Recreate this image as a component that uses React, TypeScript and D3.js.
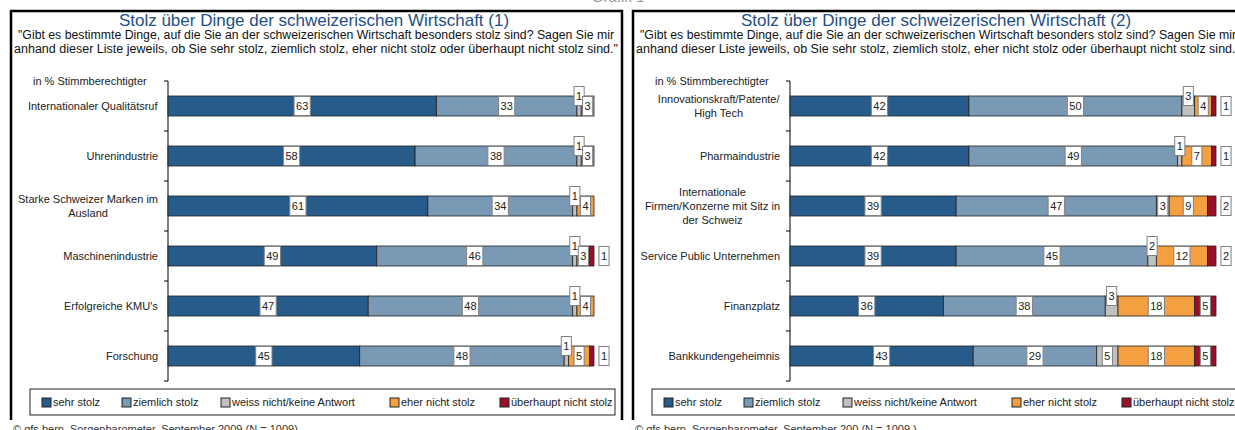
import * as d3 from "d3";
import React, { useEffect, useRef } from "react";

// panel 1
const categories1 = [
  "Internationaler Qualitätsruf",
  "Uhrenindustrie",
  "Starke Schweizer Marken im\nAusland",
  "Maschinenindustrie",
  "Erfolgreiche KMU's",
  "Forschung",
];
const sehrStolz1 = [63, 58, 61, 49, 47, 45];
const ziemlichStolz1 = [33, 38, 34, 46, 48, 48];
const weissNicht1 = [1, 1, 1, 1, 1, 1];
const eherNicht1 = [3, 3, 4, 3, 4, 5];
const ueberhauptNicht1 = [0, 0, 0, 1, 0, 1];

// panel 2
const categories2 = [
  "Innovationskraft/Patente/\nHigh Tech",
  "Pharmaindustrie",
  "Internationale\nFirmen/Konzerne mit Sitz in\nder Schweiz",
  "Service Public Unternehmen",
  "Finanzplatz",
  "Bankkundengeheimnis",
];
const sehrStolz2 = [42, 42, 39, 39, 36, 43];
const ziemlichStolz2 = [50, 49, 47, 45, 38, 29];
const weissNicht2 = [3, 1, 3, 2, 3, 5];
const eherNicht2 = [4, 7, 9, 12, 18, 18];
const ueberhauptNicht2 = [1, 1, 2, 2, 5, 5];

const seriesNames = [
  "sehr stolz",
  "ziemlich stolz",
  "weiss nicht/keine Antwort",
  "eher nicht stolz",
  "überhaupt nicht stolz",
];
const seriesColors = ["#275b8a", "#7a99b5", "#c0c0c0", "#f4a041", "#9c0f2a"];

const subtitle1 =
  '"Gibt es bestimmte Dinge, auf die Sie an der schweizerischen Wirtschaft besonders stolz sind? Sagen Sie mir';
const subtitle2 =
  'anhand dieser Liste jeweils, ob Sie sehr stolz, ziemlich stolz, eher nicht stolz oder überhaupt nicht stolz sind."';

const panels = [
  {
    title: "Stolz über Dinge der schweizerischen Wirtschaft (1)",
    footer: "© gfs.bern, Sorgenbarometer, September 2009 (N = 1009)",
    categories: categories1,
    series: [sehrStolz1, ziemlichStolz1, weissNicht1, eherNicht1, ueberhauptNicht1],
    raised: categories1,
  },
  {
    title: "Stolz über Dinge der schweizerischen Wirtschaft (2)",
    footer: "© gfs.bern, Sorgenbarometer, September 200 (N = 1009 )",
    categories: categories2,
    series: [sehrStolz2, ziemlichStolz2, weissNicht2, eherNicht2, ueberhauptNicht2],
    raised: [categories2[0], categories2[1], categories2[3], categories2[4]],
  },
];

const FONT = "'Liberation Sans', Arial, sans-serif";
const legendX = [42, 122, 221, 390, 500];

function App() {
  const ref = useRef<SVGSVGElement>(null);

  useEffect(() => {
    const svg = d3.select(ref.current);
    svg.selectAll("*").remove();

    svg
      .append("text")
      .attr("x", 618)
      .attr("y", 2)
      .attr("text-anchor", "middle")
      .attr("font-family", FONT)
      .attr("font-size", 15)
      .attr("fill", "#999")
      .text("Grafik 1");

    panels.forEach((p, pi) => {
      const g = svg.append("g").attr("transform", `translate(${pi * 622},0)`);
      const keys = seriesNames;
      const rows = p.categories.map((c, i) => {
        const r: any = { cat: c };
        keys.forEach((k, j) => (r[k] = p.series[j][i]));
        return r;
      });
      const stacked = d3.stack().keys(keys)(rows);

      const x = d3.scaleLinear().domain([0, 100]).range([168, 594]);
      const y = d3
        .scaleBand()
        .domain(p.categories)
        .range([81, 381])
        .paddingInner(0.6)
        .paddingOuter(0.3);
      const step = y.step();

      // frame
      g.append("path")
        .attr("d", "M11,420V11H622V420")
        .attr("fill", "none")
        .attr("stroke", "#000")
        .attr("stroke-width", 2.5);

      g.append("text")
        .attr("x", 314)
        .attr("y", 26)
        .attr("text-anchor", "middle")
        .attr("font-family", FONT)
        .attr("font-size", 17)
        .attr("fill", "#1f4f86")
        .text(p.title);

      [subtitle1, subtitle2].forEach((s, i) => {
        g.append("text")
          .attr("x", 316)
          .attr("y", 39 + i * 13.5)
          .attr("text-anchor", "middle")
          .attr("font-family", FONT)
          .attr("font-size", 12)
          .attr("textLength", i === 0 ? 596 : 604)
          .attr("lengthAdjust", "spacingAndGlyphs")
          .attr("fill", "#111")
          .text(s);
      });

      g.append("text")
        .attr("x", 33)
        .attr("y", 85)
        .attr("font-family", FONT)
        .attr("font-size", 11)
        .attr("fill", "#222")
        .text("in % Stimmberechtigter");

      // axis
      g.append("line")
        .attr("x1", 168)
        .attr("x2", 168)
        .attr("y1", 81)
        .attr("y2", 381)
        .attr("stroke", "#000");
      const bounds = p.categories.map((c) => y(c)! - (step - y.bandwidth()) / 2);
      bounds.push(bounds[bounds.length - 1] + step);
      bounds.forEach((b) => {
        g.append("line")
          .attr("x1", 164)
          .attr("x2", 168)
          .attr("y1", b)
          .attr("y2", b)
          .attr("stroke", "#000");
      });

      // category labels
      p.categories.forEach((c) => {
        const lines = c.split("\n");
        const cy = y(c)! + y.bandwidth() / 2;
        const t = g
          .append("text")
          .attr("text-anchor", "middle")
          .attr("font-family", FONT)
          .attr("font-size", 11)
          .attr("fill", "#222");
        lines.forEach((l, i) => {
          t.append("tspan")
            .attr("x", 0)
            .attr("y", cy + 4 + (i - (lines.length - 1) / 2) * 14)
            .text(l);
        });
        const w = (t.node() as SVGTextElement).getBBox().width;
        t.attr("transform", `translate(${158 - w / 2},0)`);
      });

      // bars
      stacked.forEach((s, si) => {
        g.append("g")
          .selectAll("rect")
          .data(s)
          .enter()
          .filter((d) => d[1] - d[0] > 0)
          .append("rect")
          .attr("x", (d) => x(d[0]))
          .attr("y", (d) => y((d.data as any).cat)!)
          .attr("width", (d) => x(d[1]) - x(d[0]))
          .attr("height", y.bandwidth())
          .attr("fill", seriesColors[si])
          .attr("stroke", "#222")
          .attr("stroke-width", 0.8);
      });

      // value labels
      stacked.forEach((s, si) => {
        s.forEach((d) => {
          const v = d[1] - d[0];
          if (v <= 0) return;
          const cat = (d.data as any).cat;
          let cx = x((d[0] + d[1]) / 2);
          let cy = y(cat)! + y.bandwidth() / 2;
          if (si === 2 && p.raised.includes(cat)) cy -= 10;
          if (si === 4 && v <= 2) cx = x(d[1]) + 10;
          const lg = g.append("g");
          const rect = lg.append("rect");
          const t = lg
            .append("text")
            .attr("x", cx)
            .attr("y", cy + 4)
            .attr("text-anchor", "middle")
            .attr("font-family", FONT)
            .attr("font-size", 11)
            .attr("fill", "#222")
            .text(v);
          const w = (t.node() as SVGTextElement).getComputedTextLength() + 4;
          rect
            .attr("x", cx - w / 2)
            .attr("y", cy - 9.5)
            .attr("width", w)
            .attr("height", 19)
            .attr("fill", "#fff")
            .attr("stroke", "#808080")
            .attr("stroke-width", 1);
        });
      });

      // legend
      g.append("rect")
        .attr("x", 30)
        .attr("y", 389)
        .attr("width", 585)
        .attr("height", 26)
        .attr("fill", "#fff")
        .attr("stroke", "#222");
      seriesNames.forEach((n, i) => {
        g.append("rect")
          .attr("x", legendX[i])
          .attr("y", 398)
          .attr("width", 9)
          .attr("height", 9)
          .attr("fill", seriesColors[i])
          .attr("stroke", "#222");
        g.append("text")
          .attr("x", legendX[i] + 11)
          .attr("y", 406)
          .attr("font-family", FONT)
          .attr("font-size", 11)
          .attr("fill", "#222")
          .text(n);
      });

      g.append("text")
        .attr("x", 13)
        .attr("y", 433)
        .attr("font-family", FONT)
        .attr("font-size", 11)
        .attr("fill", "#333")
        .text(p.footer);
    });
  }, []);

  return (
    <svg
      ref={ref}
      width={1235}
      height={430}
      style={{ position: "absolute", left: 0, top: 0, background: "#fff" }}
    />
  );
}

export default App;
